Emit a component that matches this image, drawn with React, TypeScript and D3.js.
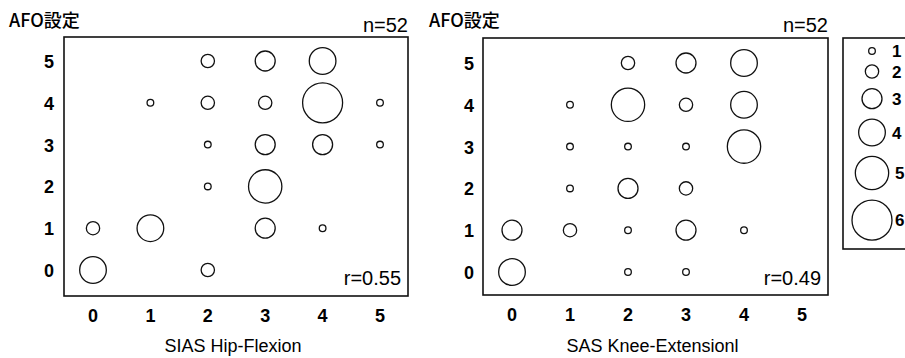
import React, { useEffect, useRef } from "react";
import * as d3 from "d3";

const xTicks = [0, 1, 2, 3, 4, 5];
const yTicks = [0, 1, 2, 3, 4, 5];
const legendCounts = [1, 2, 3, 4, 5, 6];

// [score on x, AFO setting, number of patients]
const hipFlexion = [
  [2, 5, 2], [3, 5, 3], [4, 5, 4],
  [1, 4, 1], [2, 4, 2], [3, 4, 2], [4, 4, 6], [5, 4, 1],
  [2, 3, 1], [3, 3, 3], [4, 3, 3], [5, 3, 1],
  [2, 2, 1], [3, 2, 5],
  [0, 1, 2], [1, 1, 4], [3, 1, 3], [4, 1, 1],
  [0, 0, 4], [2, 0, 2],
];

const kneeExtension = [
  [2, 5, 2], [3, 5, 3], [4, 5, 4],
  [1, 4, 1], [2, 4, 5], [3, 4, 2], [4, 4, 4],
  [1, 3, 1], [2, 3, 1], [3, 3, 1], [4, 3, 5],
  [1, 2, 1], [2, 2, 3], [3, 2, 2],
  [0, 1, 3], [1, 1, 2], [2, 1, 1], [3, 1, 3], [4, 1, 1],
  [0, 0, 4], [2, 0, 1], [3, 0, 1],
];

const panels = [
  { data: hipFlexion, xTitle: "SIAS Hip-Flexion", n: "n=52", r: "r=0.55",
    box: [64, 37, 408, 296], xr: [93, 380], yr: [270, 61], yLabelX: 54, titleX: 9 },
  { data: kneeExtension, xTitle: "SAS Knee-Extensionl", n: "n=52", r: "r=0.49",
    box: [483, 38, 828, 295], xr: [512, 802], yr: [272, 63], yLabelX: 474, titleX: 429 },
];

const FONT = "'Liberation Sans Narrow', 'Liberation Sans', Arial, sans-serif";
const JP = "'Noto Sans CJK JP', sans-serif";

const App = () => {
  const svgRef = useRef<SVGSVGElement>(null);

  useEffect(() => {
    const svg = d3.select(svgRef.current);
    svg.selectAll("*").remove();

    const size = d3.scaleLinear().domain([0, 6]).range([0, 20]);

    panels.forEach((p) => {
      const [x0, y0, x1, y1] = p.box;
      const x = d3.scaleLinear().domain([0, 5]).range(p.xr);
      const y = d3.scaleLinear().domain([0, 5]).range(p.yr);
      const g = svg.append("g");

      g.append("rect")
        .attr("x", x0).attr("y", y0)
        .attr("width", x1 - x0).attr("height", y1 - y0)
        .attr("fill", "none").attr("stroke", "#111").attr("stroke-width", 1.6);

      g.selectAll("text.xt").data(xTicks).enter().append("text")
        .attr("x", (d) => x(d)).attr("y", y1 + 26)
        .attr("text-anchor", "middle")
        .style("font", `bold 18px ${FONT}`)
        .text((d) => d);

      g.selectAll("text.yt").data(yTicks).enter().append("text")
        .attr("x", p.yLabelX).attr("y", (d) => y(d) + 7)
        .attr("text-anchor", "end")
        .style("font", `bold 18px ${FONT}`)
        .text((d) => d);

      g.selectAll("circle").data(p.data).enter().append("circle")
        .attr("cx", (d) => x(d[0])).attr("cy", (d) => y(d[1]))
        .attr("r", (d) => size(d[2]))
        .attr("fill", "none").attr("stroke", "#111").attr("stroke-width", 1.3);

      g.append("text").attr("x", p.titleX).attr("y", 27)
        .style("font", `500 18px ${JP}`).text("AFO設定");
      g.append("text").attr("x", x1).attr("y", 32).attr("text-anchor", "end")
        .style("font", `20px ${FONT}`).text(p.n);
      g.append("text").attr("x", x1 - 7).attr("y", 285).attr("text-anchor", "end")
        .style("font", `20px ${FONT}`).text(p.r);
      g.append("text").attr("x", (x0 + x1) / 2 - 3).attr("y", 352)
        .attr("text-anchor", "middle")
        .style("font", `18px ${FONT}`).text(p.xTitle);
    });

    // legend
    const lg = svg.append("g");
    lg.append("rect").attr("x", 843).attr("y", 38).attr("width", 80).attr("height", 211)
      .attr("fill", "none").attr("stroke", "#111").attr("stroke-width", 1.6);
    let cy = 51 - size(1);
    legendCounts.forEach((c, i) => {
      const r = size(c);
      cy += (i === 0 ? 0 : 10.5) + r;
      lg.append("circle").attr("cx", 872).attr("cy", cy).attr("r", r)
        .attr("fill", "none").attr("stroke", "#111").attr("stroke-width", 1.3);
      lg.append("text").attr("x", c > 4 ? 895 : 892).attr("y", cy + 6)
        .style("font", `bold 17px ${FONT}`).text(c);
      cy += r;
    });
  }, []);

  return (
    <svg ref={svgRef} width={905} height={358}
      style={{ position: "absolute", left: 0, top: 0, background: "#fff" }} />
  );
};

export default App;
